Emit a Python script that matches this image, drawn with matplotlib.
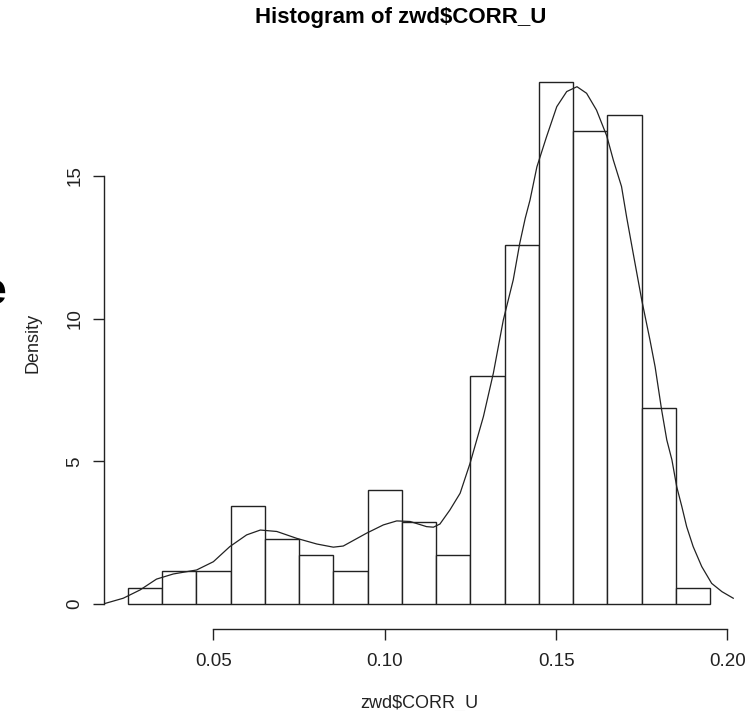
import matplotlib
matplotlib.use("Agg")
import matplotlib.pyplot as plt
import numpy as np

plt.rcParams['font.family'] = ['Liberation Sans', 'DejaVu Sans']

# Histogram bins (0.01 wide) and counts
bin_edges = [0.025, 0.035, 0.045, 0.055, 0.065, 0.075, 0.085, 0.095, 0.105,
             0.115, 0.125, 0.135, 0.145, 0.155, 0.165, 0.175, 0.185, 0.195]
counts = [1, 2, 2, 6, 4, 3, 2, 7, 5, 3, 14, 22, 32, 29, 30, 12, 1]

# Kernel density curve
dens_x = [0.0179, 0.0237, 0.0286, 0.0334, 0.0383, 0.0451, 0.0500, 0.0548, 0.0597,
          0.0637, 0.0685, 0.0743, 0.0802, 0.0850, 0.0879, 0.0947, 0.0996, 0.1035,
          0.1074, 0.1122, 0.1142, 0.1161, 0.1190, 0.1220, 0.1249, 0.1288, 0.1317,
          0.1346, 0.1375, 0.1394, 0.1410, 0.1424, 0.1444, 0.1472, 0.1502, 0.1531,
          0.1561, 0.1589, 0.1618, 0.1648, 0.1667, 0.1691, 0.1706, 0.1725, 0.1750,
          0.1774, 0.1789, 0.1808, 0.1823, 0.1838, 0.1852, 0.1867, 0.1881, 0.1900,
          0.1925, 0.1954, 0.1984, 0.2017]
dens_y = [0.00, 0.20, 0.49, 0.87, 1.05, 1.19, 1.48, 2.01, 2.42,
          2.59, 2.54, 2.30, 2.10, 1.99, 2.03, 2.48, 2.77, 2.91,
          2.89, 2.71, 2.69, 2.80, 3.29, 3.88, 4.93, 6.57, 8.09,
          9.95, 11.36, 12.64, 13.52, 14.16, 15.32, 16.37, 17.43, 17.96,
          18.13, 17.90, 17.31, 16.40, 15.56, 14.63, 13.55, 12.29, 10.65,
          9.25, 8.31, 6.80, 5.75, 5.05, 4.11, 3.41, 2.71, 2.01,
          1.31, 0.72, 0.43, 0.20]

x_ticks = [0.05, 0.10, 0.15, 0.20]
x_tick_labels = ["0.05", "0.10", "0.15", "0.20"]
y_ticks = [0, 5, 10, 15]
y_tick_labels = ["0", "5", "10", "15"]

title = "Histogram of zwd$CORR_U"
xlabel = "zwd$CORR_U"
ylabel = "Density"

W, H = 755, 711
fig = plt.figure(figsize=(W / 100, H / 100), dpi=100)

edges = np.array(bin_edges)
widths = np.diff(edges)
n = np.array(counts)
density = n / (n.sum() * widths)

x0, x1 = edges[0], edges[-1]
dx = (x1 - x0) * 0.04
ymax = density.max()
dy = ymax * 0.04
xlim = (x0 - dx, x1 + dx)
ylim = (-dy, ymax + dy)

# plot region in pixels
left_px, right_px = 104.4, 733.6
top_px, bottom_px = 61.4, 624.8
ax = fig.add_axes([left_px / W, 1 - bottom_px / H,
                   (right_px - left_px) / W, (bottom_px - top_px) / H])

ax.bar(edges[:-1], density, width=widths, align='edge',
       facecolor='white', edgecolor='#222222', linewidth=1.0)
ax.plot(dens_x, dens_y, color='#222222', linewidth=0.9)

ax.set_xlim(*xlim)
ax.set_ylim(*ylim)

for s in ['top', 'right']:
    ax.spines[s].set_visible(False)
ax.spines['bottom'].set_bounds(x_ticks[0], x_ticks[-1])
ax.spines['left'].set_bounds(y_ticks[0], y_ticks[-1])
ax.spines['bottom'].set_position(('outward', 3))
for s in ['bottom', 'left']:
    ax.spines[s].set_linewidth(1.0)
    ax.spines[s].set_color('#222222')

ax.set_xticks(x_ticks)
ax.set_xticklabels(x_tick_labels)
ax.set_yticks(y_ticks)
ax.set_yticklabels(y_tick_labels)
ax.tick_params(axis='both', direction='out', length=8, width=1.0,
               color='#222222', labelsize=13.5, labelcolor='#222222')
ax.tick_params(axis='x', pad=9)
ax.tick_params(axis='y', pad=7, labelrotation=90)
for lab in ax.get_yticklabels():
    lab.set_va('center')

fig.text((left_px + right_px) / 2 / W, 1 - 703 / H, xlabel, ha='center', va='center',
         fontsize=13, color='#222222')
fig.text(33 / W, 1 - 343 / H, ylabel, ha='center', va='center', rotation=90,
         fontsize=13, color='#222222')
fig.text(401 / W, 1 - 18 / H, title, ha='center', va='center', fontsize=16,
         fontweight='bold', color='black')

# stray large glyph at left edge
fig.text(6 / W, 1 - 293 / H, "e", ha='right', va='center', fontsize=32,
         fontweight='bold', color='black')

fig.savefig("out.png", dpi=100)
